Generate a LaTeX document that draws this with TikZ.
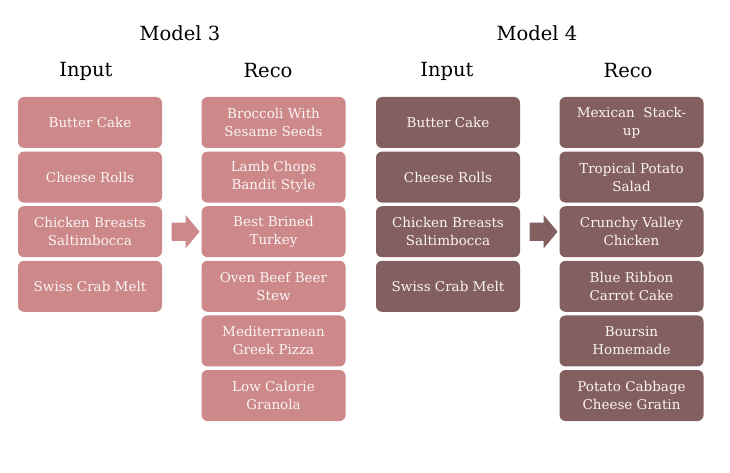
\documentclass[tikz,border=0pt]{standalone}
\usepackage{fontspec}
\setmainfont{DejaVu Serif}
\usetikzlibrary{shapes.arrows,calc}
\definecolor{roseA}{HTML}{CD8889}
\definecolor{roseB}{HTML}{835F5F}
\definecolor{boxtxt}{HTML}{FBF4F4}
\tikzset{
  recbox/.style={rounded corners=6pt,minimum width=144pt,minimum height=51pt,
    inner sep=2pt,align=center,text=boxtxt,font=\fontsize{13.5}{18}\selectfont}, % recipe box
  mthree/.style={recbox,fill=roseA},
  mfour/.style={recbox,fill=roseB},
  head/.style={font=\fontsize{19.5}{22}\selectfont,text=black},                 % column title
  blockarr/.style={single arrow,minimum width=33pt,minimum height=28pt,
    single arrow head extend=7.5pt,single arrow tip angle=100,
    inner xsep=0pt,inner ysep=9pt,shape border rotate=0},
}

\begin{document}
\begin{tikzpicture}[x=1pt,y=-1pt]
  \useasboundingbox (0,0) rectangle (730,473);
  % titles
  \node[head] (m3) at (180,33) {Model 3};
  \node[head] (m4) at (537,33) {Model 4};
  \node[head] (in3) at (86,71) {Input};
  \node[head] (re3) at (268,71) {Reco};
  \node[head] (in4) at (447,71) {Input};
  \node[head] (re4) at (628,71) {Reco};
  % model 3
  \foreach \txt [count=\i] in {{Butter Cake},{Cheese Rolls},
      {Chicken Breasts\\Saltimbocca},{Swiss Crab Melt}}
    \node[mthree] (a\i) at (90,{122.5+54.6*(\i-1)}) {\txt};
  \foreach \txt [count=\i] in {{Broccoli With\\Sesame Seeds},{Lamb Chops\\Bandit Style},
      {Best Brined\\Turkey},{Oven Beef Beer\\Stew},{Mediterranean\\Greek Pizza},
      {Low Calorie\\Granola}}
    \node[mthree] (b\i) at (273.5,{122.5+54.6*(\i-1)}) {\txt};
  \node[blockarr,fill=roseA] (arr3) at ($(a3.east)!0.5!(b3.west)$) {};
  % model 4
  \foreach \txt [count=\i] in {{Butter Cake},{Cheese Rolls},
      {Chicken Breasts\\Saltimbocca},{Swiss Crab Melt}}
    \node[mfour] (c\i) at (448,{122.5+54.6*(\i-1)}) {\txt};
  \foreach \txt [count=\i] in {{Mexican~ Stack-\\up},{Tropical Potato\\Salad},
      {Crunchy Valley\\Chicken},{Blue Ribbon\\Carrot Cake},{Boursin\\Homemade},
      {Potato Cabbage\\Cheese Gratin}}
    \node[mfour] (d\i) at (631.5,{122.5+54.6*(\i-1)}) {\txt};
  \node[blockarr,fill=roseB] (arr4) at ($(c3.east)!0.5!(d3.west)$) {};
\end{tikzpicture}
\end{document}
